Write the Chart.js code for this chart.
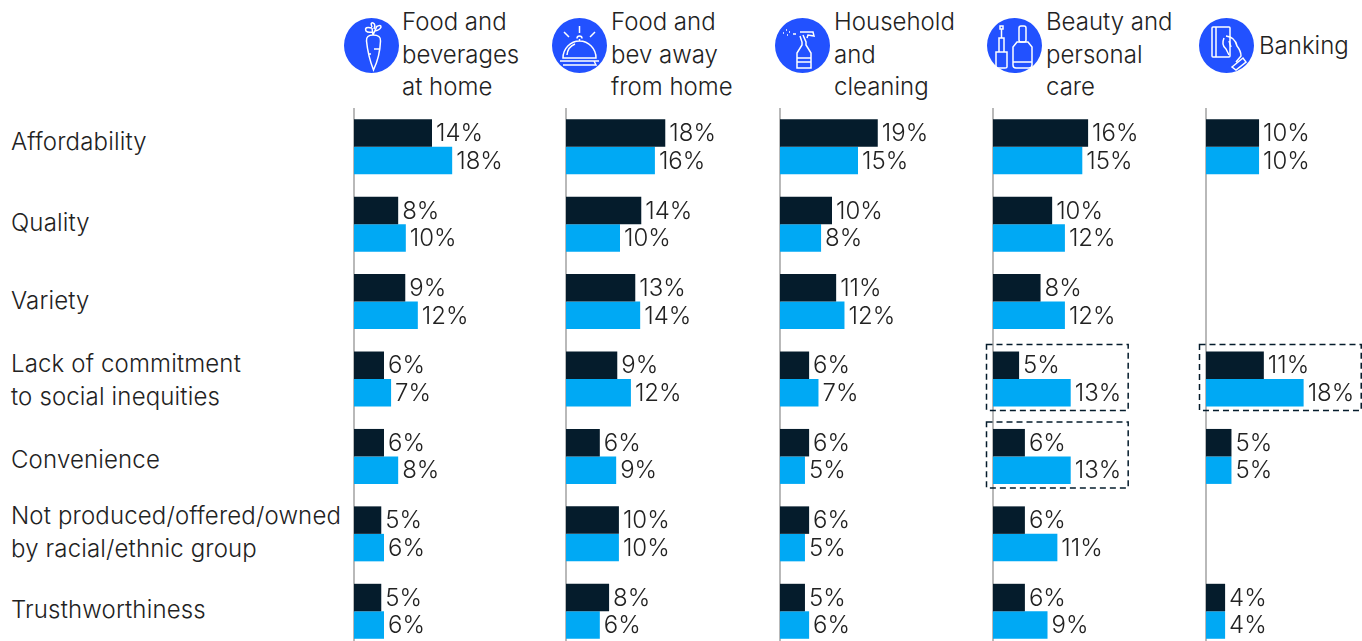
<!DOCTYPE html>
<html>
<head>
<meta charset="utf-8">
<title>Chart</title>
<script src="https://cdn.jsdelivr.net/npm/chart.js@4"></script>
<style>
  html, body { margin: 0; padding: 0; background: #fff; }
  #page { position: relative; width: 1362px; height: 641px; overflow: hidden; font-family: Inter, "Liberation Sans", sans-serif; font-weight: 300; color: #222; }
  canvas { position: absolute; top: 108px; }
  .row, .head { position: absolute; font-size: 24px; line-height: 32.5px; white-space: nowrap; }
  .row { left: 11px; transform: translateY(-50%); letter-spacing: .15px; }
  .head { transform: translateY(-50%); top: 55px; }
  svg { position: absolute; top: 18px; width: 55px; height: 55px; fill: none; stroke: #fff; stroke-width: 1.5; }
  svg circle.bg { fill: #2251ff; stroke: none; }
</style>
</head>
<body>
<div id="page"></div>
<script>
const categories = ["Affordability", "Quality", "Variety", "Lack of commitment<br>to social inequities", "Convenience", "Not produced/offered/owned<br>by racial/ethnic group", "Trusthworthiness"]
const panelTitles = ["Food and<br>beverages<br>at home", "Food and<br>bev away<br>from home", "Household<br>and<br>cleaning", "Beauty and<br>personal<br>care", "Banking"]

const foodHomeDark = [14.3, 8.1, 9.4, 5.5, 5.5, 5, 5]
const foodHomeLight = [18, 9.5, 11.7, 6.8, 8.1, 5.5, 5.5]
const foodAwayDark = [18.2, 13.8, 12.7, 9.4, 6.2, 9.7, 7.9]
const foodAwayLight = [16.3, 9.9, 13.6, 11.9, 9.2, 9.7, 6.2]
const householdDark = [18.8, 10, 10.8, 5.6, 5.6, 5.6, 4.8]
const householdLight = [15, 7.9, 12.4, 7.4, 4.8, 4.8, 5.6]
const beautyDark = [16.4, 10.2, 8.2, 4.5, 5.5, 5.5, 5.5]
const beautyLight = [15.4, 12.4, 12.4, 13.4, 13.4, 11.1, 9.4]
const bankingDark = [10, null, null, 10.9, 4.8, null, 3.6]
const bankingLight = [10, null, null, 18.4, 4.8, null, 3.6]

// x axis top end of each panel
const axisMax = [28.6, 28.6, 30, 26.9, 29.4]

const DARK = "#051c2c"
const LIGHT = "#00a9f4"

const panels = [
  { dark: foodHomeDark, light: foodHomeLight, axisX: 353.5, titleX: 402, iconX: 343.5, boxes: [] },
  { dark: foodAwayDark, light: foodAwayLight, axisX: 565.5, titleX: 611, iconX: 551.5, boxes: [] },
  { dark: householdDark, light: householdLight, axisX: 780, titleX: 834, iconX: 774.5, boxes: [] },
  { dark: beautyDark, light: beautyLight, axisX: 992.5, titleX: 1046, iconX: 987, boxes: [3, 4] },
  { dark: bankingDark, light: bankingLight, axisX: 1206, titleX: 1259, iconX: 1199, boxes: [3] },
]

const icons = [
  // carrot
  `<path d="M22.5 23Q22 17 29 17Q37 17 36.5 23Q36 38 29.5 52Q24 38 22.5 23ZM29 17L28 10M29 17L33 8M28 10Q20 8 22 13Q24 15 28 14M28 9Q26 4 29 5Q32 6 30 11M32 9Q37 6 37 9Q36 12 31 13M30 31H36M24 36H27"/>`,
  // cloche
  `<path d="M11 40A16.5 17 0 0 1 44 40ZM27.5 23V21M25 20.5A2.5 2.5 0 0 1 30 20.5M15 37A13 13 0 0 1 23 26M8 43H47M11 47H44L42 43M27.5 8V15M12 14L17 19M43 14L38 19"/>`,
  // spray bottle
  `<path d="M25 14H38L39 18L33 17L32 20M28 17L31 24V27L36 35V50H22V35L27 27V24L25 18M22 44H36M22 40H36M18 16H21M14 14H15M11 12H12M12 17H13M8 15H9"/>`,
  // nail polish and brush
  `<rect x="32" y="8" width="7" height="16" rx="2"/><path d="M30 24H41L45 29V47Q45 50 42 50H29Q26 50 26 47V29ZM26 44H45M12 20H17V34H12ZM14.5 20V11M13 11H16V8H13ZM9 34H20V49Q20 50 18 50H11Q9 50 9 49Z"/>`,
  // hand holding card
  `<rect x="13" y="9" width="18" height="30" rx="1"/><path d="M17 9V39M27 18Q36 19 38 28Q42 33 42 38L37 44M25 20Q22 27 27 31L30 37M30 23L32 29M33 49L44 40L47 44L37 52Z"/>`,
]

const page = document.getElementById("page")

categories.forEach((c, i) => {
  const tops = [142, 223, 301, 380, 460, 532, 610]
  const el = document.createElement("div")
  el.className = "row"
  el.style.top = tops[i] + "px"
  el.innerHTML = c
  page.appendChild(el)
})

const labelFont = '300 24px Inter, "Liberation Sans", sans-serif'

// value labels at the bar ends and the dashed highlight boxes
const barExtras = {
  id: "barExtras",
  afterDatasetsDraw(chart, args, opts) {
    const { ctx, scales } = chart
    ctx.save()
    ctx.font = labelFont
    ctx.fillStyle = "#222"
    ctx.textBaseline = "middle"
    const ends = {}
    chart.data.datasets.forEach((ds, d) => {
      chart.getDatasetMeta(d).data.forEach((bar, i) => {
        if (ds.data[i] === null) return
        const text = Math.round(ds.data[i]) + "%"
        ctx.fillText(text, bar.x + 4, bar.y + 1)
        ends[i] = Math.max(ends[i] || 0, bar.x + 4 + ctx.measureText(text).width)
      })
    })
    ctx.strokeStyle = DARK
    ctx.lineWidth = 1.5
    ctx.setLineDash([6, 4])
    opts.boxes.forEach((i) => {
      const y = scales.y.getPixelForValue(i)
      const left = chart.chartArea.left - 6.5
      ctx.strokeRect(left, y - 34.5, ends[i] + 7 - left, 66)
    })
    ctx.restore()
  },
}

panels.forEach((p, n) => {
  const title = document.createElement("div")
  title.className = "head"
  title.style.left = p.titleX + "px"
  title.innerHTML = panelTitles[n]
  if (n === 4) title.style.top = "46px"
  page.appendChild(title)

  const svg = document.createElementNS("http://www.w3.org/2000/svg", "svg")
  svg.setAttribute("viewBox", "0 0 55 55")
  svg.style.left = p.iconX + "px"
  svg.innerHTML = `<circle class="bg" cx="27.5" cy="27.5" r="27.5"/>` + icons[n]
  page.appendChild(svg)

  const canvas = document.createElement("canvas")
  canvas.width = 168
  canvas.height = 542
  canvas.style.left = p.axisX - 12 + "px"
  page.appendChild(canvas)

  new Chart(canvas, {
    type: "bar",
    plugins: [barExtras],
    data: {
      labels: categories,
      datasets: [
        { data: p.dark, backgroundColor: DARK, categoryPercentage: 0.71, barPercentage: 1 },
        { data: p.light, backgroundColor: LIGHT, categoryPercentage: 0.71, barPercentage: 1 },
      ],
    },
    options: {
      indexAxis: "y",
      responsive: false,
      animation: false,
      layout: { padding: { left: 12 } },
      plugins: {
        legend: { display: false },
        tooltip: { enabled: false },
        barExtras: { boxes: p.boxes },
      },
      scales: {
        x: { display: false, min: 0, max: axisMax[n] },
        y: {
          ticks: { display: false },
          grid: { drawOnChartArea: false, drawTicks: false },
          border: { color: "#b9b9b9", width: 2 },
        },
      },
    },
  })
})
</script>
</body>
</html>
